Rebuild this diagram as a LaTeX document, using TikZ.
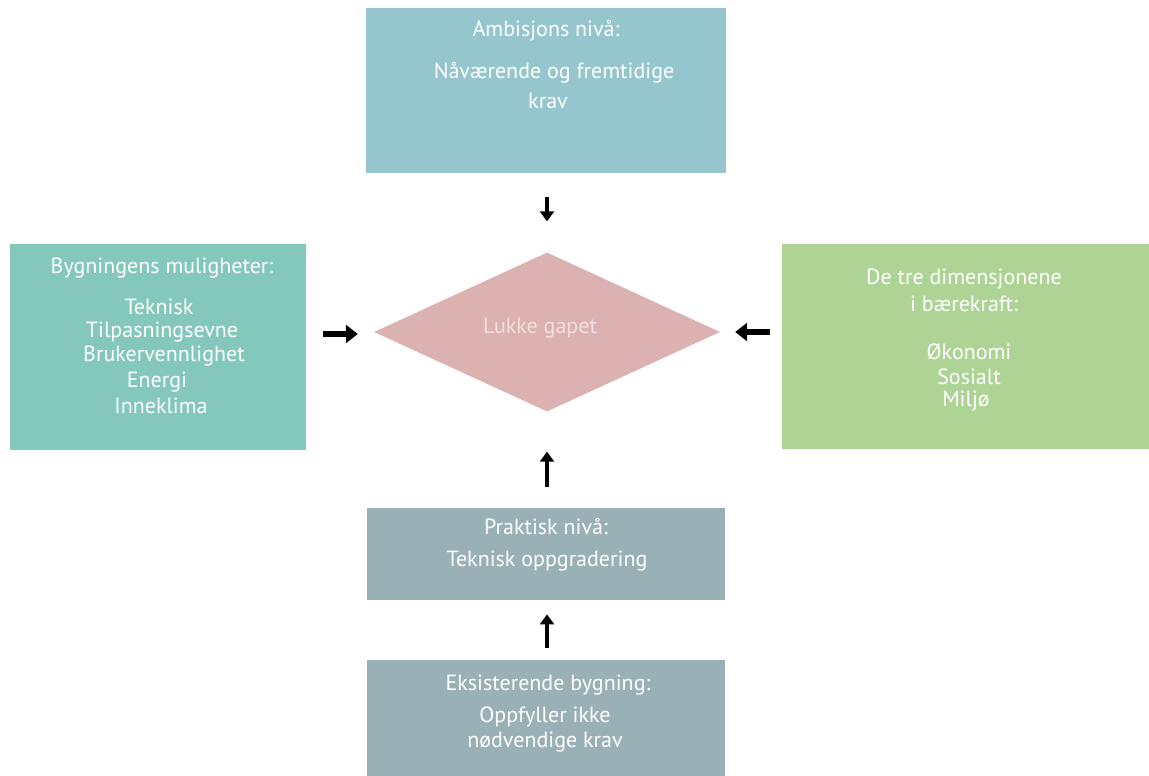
\documentclass[tikz,border=0pt]{standalone}
\usepackage{fontspec}
\setmainfont{PT Sans}
\usetikzlibrary{arrows.meta,shapes.geometric}
\definecolor{topc}{HTML}{96C6CD}
\definecolor{leftc}{HTML}{84C8BB}
\definecolor{rightc}{HTML}{ADD495}
\definecolor{diac}{HTML}{DBB2B1}
\definecolor{grayc}{HTML}{99B0B6}
\definecolor{diatext}{HTML}{F3DEDD}
\tikzset{
  box/.style={fill=#1, draw=none, inner sep=0pt, anchor=north west},
  lbl/.style={text=white, font=\fontsize{22}{26}\selectfont, inner sep=0pt, anchor=center},
  arr/.style={line width=3.8pt, -{Triangle[width=14pt,length=10pt]}},
  harr/.style={line width=5.5pt, -{Triangle[width=18pt,length=12pt]}},
}
\begin{document}
\begin{tikzpicture}[x=1pt,y=-1pt]
\useasboundingbox (0,0) rectangle (1149,776);
\node[box=topc, minimum width=360pt, minimum height=165pt] (top) at (366,8) {};
\node[box=leftc, minimum width=296pt, minimum height=206pt] (left) at (10,244) {};
\node[box=rightc, minimum width=367pt, minimum height=205pt] (right) at (782,244) {};
\node[box=grayc, minimum width=358pt, minimum height=92pt] (prak) at (367,508) {};
\node[box=grayc, minimum width=358pt, minimum height=116pt] (eks) at (367,660) {};
\node[diamond, fill=diac, inner sep=0pt, minimum width=346pt, minimum height=159pt, aspect=2.18] (dia) at (547,332) {};
% texts
\node[lbl] (t1) at (546,31) {Ambisjons nivå:};
\node[lbl] (t2) at (554,73) {Nåværende og fremtidige};
\node[lbl] (t3) at (548,101) {krav};
\node[lbl] (l1) at (162,268) {Bygningens muligheter:};
\node[lbl] (l2) at (159,307) {Teknisk};
\node[lbl] (l3) at (162,332) {Tilpasningsevne};
\node[lbl] (l4) at (164,356) {Brukervennlighet};
\node[lbl] (l5) at (157,382) {Energi};
\node[lbl] (l6) at (161,406) {Inneklima};
\node[lbl] (r1) at (964,279) {De tre dimensjonene};
\node[lbl] (r2) at (964,304) {i bærekraft:};
\node[lbl] (r3) at (969,352) {Økonomi};
\node[lbl] (r4) at (969,377) {Sosialt};
\node[lbl] (r5) at (966,401) {Miljø};
\node[lbl, text=diatext] (d1) at (540,328) {Lukke gapet};
\node[lbl] (p1) at (546,527) {Praktisk nivå:};
\node[lbl] (p2) at (547,561) {Teknisk oppgradering};
\node[lbl] (e1) at (548,685) {Eksisterende bygning:};
\node[lbl] (e2) at (545,717) {Oppfyller ikke};
\node[lbl] (e3) at (545,742) {nødvendige krav};
% arrows
\draw[arr, shorten <=24pt, shorten >=31pt] (top.south -| dia.north) -- (dia.north);
\draw[harr, shorten <=17pt, shorten >=16pt] ([yshift=-2pt]left.east |- dia.west) -- ([yshift=-2pt]dia.west);
\draw[harr, shorten <=12pt, shorten >=15pt] (right.west |- dia.east) -- (dia.east);
\draw[arr, shorten <=21pt, shorten >=40pt] (prak.north -| dia.south) -- (dia.south);
\draw[arr, shorten <=12pt, shorten >=14pt] (eks.north -| dia.south) -- (prak.south -| dia.south);
\end{tikzpicture}
\end{document}
